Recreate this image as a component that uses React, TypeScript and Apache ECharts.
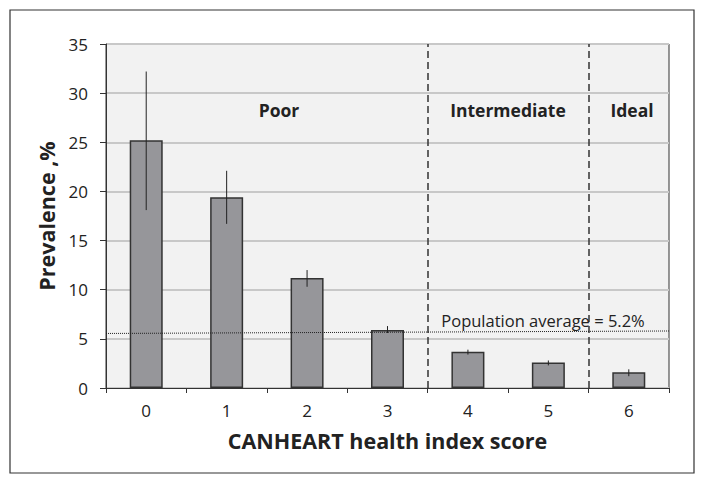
import React, { useEffect, useRef } from "react";
import * as echarts from "echarts";

const categories = ["0", "1", "2", "3", "4", "5", "6"];
const prevalence = [25.2, 19.4, 11.2, 5.9, 3.7, 2.6, 1.6];
const errLow = [18.1, 16.7, 10.3, 5.6, 3.4, 2.3, 1.2];
const errHigh = [32.2, 22.1, 12.0, 6.3, 3.9, 2.8, 1.9];
const populationLine = [
  [-0.5, 5.55],
  [6.5, 5.8],
];
const dividers = [3.5, 5.5];
const groupLabels = ["Poor", "Intermediate", "Ideal"];
const populationText = "Population average = 5.2%";

const FONT = "'Open Sans', 'Noto Sans', sans-serif";

export default function App() {
  const ref = useRef<HTMLDivElement>(null);
  useEffect(() => {
    if (!ref.current) return;
    const chart = echarts.init(ref.current, null, { renderer: "svg" });
    const errData = categories.map((_, i) => [i, errLow[i], errHigh[i]]);
    const groupPos = [
      [279, 110],
      [508, 110],
      [632, 110],
    ];
    chart.setOption({
      animation: false,
      backgroundColor: "#ffffff",
      textStyle: { fontFamily: FONT },
      grid: {
        left: 106,
        right: 36,
        top: 44,
        bottom: 96,
        show: true,
        backgroundColor: "#f2f2f2",
        borderColor: "#333",
        borderWidth: 1,
      },
      xAxis: [
        {
          type: "category",
          data: categories,
          boundaryGap: true,
          name: "CANHEART health index score",
          nameLocation: "middle",
          nameGap: 41,
          nameTextStyle: { fontFamily: FONT, fontWeight: "bold", fontSize: 21.5, color: "#222" },
          axisLine: { show: true, onZero: false, lineStyle: { color: "#333", width: 1 } },
          axisTick: { show: true, inside: false, length: 5, alignWithLabel: false, interval: 0, lineStyle: { color: "#333" } },
          axisLabel: { fontFamily: FONT, fontSize: 17, color: "#222", margin: 14 },
          splitLine: { show: false },
        },
        {
          type: "value",
          min: -0.5,
          max: 6.5,
          show: false,
          axisLine: { onZero: false },
          splitLine: { show: false },
        },
      ],
      yAxis: {
        type: "value",
        min: 0,
        max: 35,
        interval: 5,
        name: "Prevalence ,%",
        nameLocation: "middle",
        nameGap: 47,
        nameTextStyle: { fontFamily: FONT, fontWeight: "bold", fontSize: 21.5, color: "#222" },
        axisLine: { show: true, onZero: false, lineStyle: { color: "#333", width: 1 } },
        axisTick: { show: true, inside: false, length: 6, lineStyle: { color: "#333" } },
        axisLabel: { fontFamily: FONT, fontSize: 17, color: "#222", margin: 18 },
        splitLine: { show: true, lineStyle: { color: "#c8c8c8", width: 2 } },
      },
      series: [
        {
          type: "bar",
          data: prevalence,
          barWidth: 33,
          itemStyle: { color: "#96969a", borderColor: "#333", borderWidth: 1.5 },
          z: 3,
        },
        {
          type: "custom",
          data: errData,
          z: 4,
          renderItem: (params: any, api: any) => {
            const i = params.dataIndex;
            const lo = api.coord([i, errLow[i]]);
            const hi = api.coord([i, errHigh[i]]);
            return {
              type: "line",
              shape: { x1: lo[0], y1: lo[1], x2: hi[0], y2: hi[1] },
              style: { stroke: "#222", lineWidth: 1 },
            };
          },
        },
        {
          type: "line",
          xAxisIndex: 1,
          data: populationLine,
          symbol: "none",
          lineStyle: { color: "#222", width: 1, type: [1, 1] },
          z: 5,
          markLine: {
            silent: true,
            symbol: "none",
            label: { show: false },
            lineStyle: { color: "#333", width: 1.5, type: [7, 4] },
            data: dividers.map((d) => ({ xAxis: d })),
          },
        },
      ],
      graphic: [
        ...groupLabels.map((t, i) => ({
          type: "text",
          x: groupPos[i][0],
          y: groupPos[i][1],
          style: {
            text: t,
            fontFamily: FONT,
            fontWeight: "bold",
            fontSize: 17.5,
            fill: "#222",
            align: "center",
            verticalAlign: "middle",
          },
          z: 10,
        })),
        {
          type: "text",
          x: 543,
          y: 320,
          style: {
            text: populationText,
            fontFamily: FONT,
            fontSize: 16.5,
            fill: "#222",
            align: "center",
            verticalAlign: "middle",
          },
          z: 10,
        },
        {
          type: "rect",
          shape: { x: 10, y: 10, width: 684, height: 463 },
          style: { fill: "none", stroke: "#333", lineWidth: 1.2 },
          silent: true,
        },
      ],
    });
    return () => chart.dispose();
  }, []);
  return <div ref={ref} style={{ position: "fixed", left: 0, top: 0, width: 705, height: 484 }} />;
}
